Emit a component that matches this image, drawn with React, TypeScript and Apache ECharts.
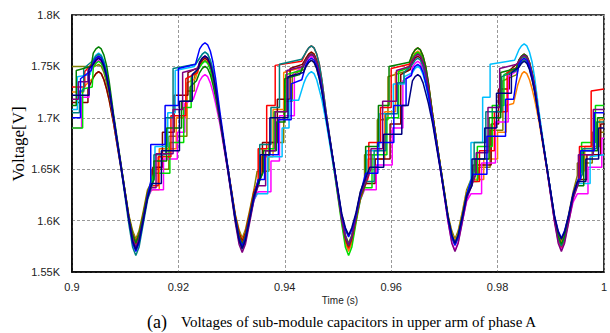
import React, { useEffect, useRef } from "react";
import * as echarts from "echarts";

// time in ms after 0.9 s, voltage in V
const xTickStart = 0.9;
const yTickLabels = ["1.55K", "1.6K", "1.65K", "1.7K", "1.75K", "1.8K"];

const blue = [[0,1700],[1.6,1700],[1.6,1738],[3.6,1746],[4.0,1754],[4.5,1758],[5,1760],
[5.5,1758],[6.0,1752],[6.5,1742],[7.0,1728],[7.8,1701],[9.3,1650],[10.7,1601],[11.4,1578],[12,1570],[12.6,1578],[13.4,1600],[14.2,1624],
[14.8,1638],[14.8,1674],[17.5,1674],[17.5,1712],[20.0,1712],[20.0,1748],[23.2,1752],[24.0,1767],[24.5,1771],[25,1773],
[25.5,1771],[26.0,1765],[26.5,1754],[27.0,1738],[27.8,1706],[29.3,1652],[30.7,1603],[31.4,1583],[32,1575],[32.6,1583],[33.4,1603],[34.2,1622],
[35.0,1640],[36.2,1640],[36.2,1664],[38.8,1664],[38.8,1698],[41.2,1698],[41.2,1733],[43.2,1737],[44.0,1752],[44.5,1756],[45,1758],
[45.5,1756],[46.0,1750],[46.5,1740],[47.0,1727],[47.8,1701],[49.3,1652],[50.7,1606],[51.4,1591],[52,1584],[52.6,1591],[53.4,1606],[54.2,1626],
[55.2,1646],[57.5,1646],[57.5,1676],[60.5,1676],[60.5,1712],[62.8,1712],[62.8,1738],[63.8,1741],[64.0,1746],[64.5,1750],[65,1752],
[65.5,1750],[66.0,1744],[66.5,1734],[67.0,1722],[67.8,1698],[69.3,1650],[70.7,1602],[71.4,1584],[72,1576],[72.6,1584],[73.4,1603],[74.2,1625],
[75.4,1645],[78.0,1645],[78.0,1682],[81.5,1682],[81.5,1718],[83.0,1718],[84.0,1752],[84.5,1756],[85,1758],
[85.5,1756],[86.0,1750],[86.5,1740],[87.0,1727],[87.8,1701],[89.3,1651],[90.7,1605],[91.4,1590],[92,1583],[92.6,1590],[93.4,1606],[94.2,1626],
[95.2,1640],[95.6,1640],[95.6,1668],[98.2,1668],[98.2,1705],[100,1705]];

const navy = [[0,1722],[3.2,1722],[3.2,1748],[4.0,1752],[4.5,1756],[5,1758],
[5.5,1756],[6.0,1750],[6.5,1740],[7.0,1727],[7.8,1700],[9.3,1649],[10.7,1601],[11.4,1580],[12,1572],[12.6,1580],[13.4,1601],[14.2,1622],
[15.0,1636],[16.8,1636],[16.8,1668],[20.2,1668],[20.2,1716],[22.6,1716],[22.6,1742],[23.8,1748],[24.0,1754],[24.5,1758],[25,1760],
[25.5,1758],[26.0,1752],[26.5,1742],[27.0,1728],[27.8,1701],[29.3,1650],[30.7,1601],[31.4,1581],[32,1573],[32.6,1581],[33.4,1602],[34.2,1624],
[35.4,1642],[35.4,1664],[37.2,1664],[37.2,1700],[40.6,1700],[40.6,1740],[43.5,1744],[44.0,1750],[44.5,1754],[45,1756],
[45.5,1754],[46.0,1748],[46.5,1738],[47.0,1725],[47.8,1699],[49.3,1652],[50.7,1607],[51.4,1593],[52,1586],[52.6,1593],[53.4,1608],[54.2,1628],
[56.0,1652],[58.6,1652],[58.6,1684],[62.0,1684],[62.0,1712],[63.2,1712],[64.0,1736],[64.5,1740],[65,1742],
[65.5,1740],[66.0,1734],[66.5,1724],[67.0,1714],[67.8,1694],[69.3,1648],[70.7,1603],[71.4,1586],[72,1578],[72.6,1586],[73.4,1604],[74.2,1624],
[75.2,1634],[75.2,1660],[77.6,1660],[77.6,1690],[79.8,1690],[79.8,1724],[82.6,1724],[82.6,1744],[84.0,1749],[84.5,1753],[85,1755],
[85.5,1753],[86.0,1747],[86.5,1737],[87.0,1725],[87.8,1699],[89.3,1651],[90.7,1604],[91.4,1589],[92,1582],[92.6,1589],[93.4,1605],[94.2,1625],
[95.0,1638],[96.6,1638],[96.6,1660],[99.0,1660],[99.0,1690],[100,1690]];

const cyan = [[0,1708],[1.0,1708],[1.0,1740],[3.4,1742],[4.0,1757],[4.5,1761],[5,1763],
[5.5,1761],[6.0,1755],[6.5,1745],[7.0,1730],[7.8,1702],[9.3,1650],[10.7,1602],[11.4,1583],[12,1575],[12.6,1583],[13.4,1603],[14.2,1624],
[15.6,1644],[15.6,1672],[18.0,1672],[18.0,1705],[19.4,1705],[19.4,1746],[23.0,1750],[24.0,1758],[24.5,1762],[25,1764],
[25.5,1762],[26.0,1756],[26.5,1746],[27.0,1731],[27.8,1702],[29.3,1650],[30.7,1601],[31.4,1582],[32,1574],[32.6,1582],[33.4,1602],[34.2,1620],
[34.8,1626],[36.8,1626],[36.8,1662],[39.5,1662],[39.5,1690],[40.8,1690],[40.8,1717],[42.6,1717],[43.6,1734],[44.0,1739],[44.5,1743],[45,1745],
[45.5,1743],[46.0,1737],[46.5,1727],[47.0,1717],[47.8,1695],[49.3,1648],[50.7,1601],[51.4,1583],[52,1575],[52.6,1583],[53.4,1603],[54.2,1624],
[55.4,1644],[55.4,1668],[57.8,1668],[57.8,1704],[60.4,1704],[60.4,1733],[62.5,1733],[62.5,1740],[64.0,1744],[64.5,1748],[65,1750],
[65.5,1748],[66.0,1742],[66.5,1732],[67.0,1720],[67.8,1697],[69.3,1650],[70.7,1603],[71.4,1586],[72,1578],[72.6,1586],[73.4,1604],[74.2,1624],
[75.0,1640],[75.0,1676],[77.2,1676],[77.2,1720],[78.6,1720],[78.6,1752],[83.2,1756],[84.0,1766],[84.5,1770],[85,1772],
[85.5,1770],[86.0,1764],[86.5,1754],[87.0,1738],[87.8,1706],[89.3,1651],[90.7,1602],[91.4,1584],[92,1576],[92.6,1584],[93.4,1604],[94.2,1624],
[95.0,1636],[97.4,1636],[97.4,1662],[100,1664]];

const green = [[0,1690],[2.0,1690],[2.0,1728],[3.8,1730],[4.0,1749],[4.5,1753],[5,1755],
[5.5,1753],[6.0,1747],[6.5,1737],[7.0,1724],[7.8,1699],[9.3,1651],[10.7,1603],[11.4,1586],[12,1578],[12.6,1586],[13.4,1605],[14.2,1626],
[15.4,1646],[18.4,1646],[18.4,1676],[21.0,1676],[21.0,1710],[22.4,1710],[22.4,1740],[24.0,1749],[24.5,1753],[25,1755],
[25.5,1753],[26.0,1747],[26.5,1737],[27.0,1724],[27.8,1699],[29.3,1650],[30.7,1602],[31.4,1584],[32,1576],[32.6,1584],[33.4,1604],[34.2,1625],
[35.2,1636],[35.2,1670],[38.0,1670],[38.0,1706],[40.2,1706],[40.2,1742],[43.0,1746],[44.0,1756],[44.5,1760],[45,1762],
[45.5,1760],[46.0,1754],[46.5,1744],[47.0,1730],[47.8,1700],[49.3,1648],[50.7,1597],[51.4,1574],[52,1566],[52.6,1574],[53.4,1598],[54.2,1620],
[55.0,1632],[56.4,1632],[56.4,1664],[59.2,1664],[59.2,1700],[61.4,1700],[61.4,1745],[63.4,1749],[64.0,1758],[64.5,1762],[65,1764],
[65.5,1762],[66.0,1756],[66.5,1746],[67.0,1731],[67.8,1702],[69.3,1651],[70.7,1603],[71.4,1586],[72,1578],[72.6,1586],[73.4,1605],[74.2,1626],
[75.0,1638],[76.2,1638],[76.2,1672],[79.0,1672],[79.0,1712],[81.2,1712],[81.2,1742],[83.6,1748],[84.0,1754],[84.5,1758],[85,1760],
[85.5,1758],[86.0,1752],[86.5,1742],[87.0,1728],[87.8,1701],[89.3,1650],[90.7,1602],[91.4,1583],[92,1575],[92.6,1583],[93.4,1603],[94.2,1624],
[95.8,1648],[95.8,1676],[98.4,1676],[98.4,1712],[100,1712]];

const darkGreen = [[0,1712],[0.8,1712],[0.8,1746],[3.6,1750],[4.0,1763],[4.5,1767],[5,1769],
[5.5,1767],[6.0,1761],[6.5,1751],[7.0,1735],[7.8,1704],[9.3,1652],[10.7,1603],[11.4,1586],[12,1578],[12.6,1586],[13.4,1605],[14.2,1626],
[15.4,1640],[15.4,1658],[17.8,1658],[17.8,1690],[20.6,1690],[20.6,1716],[22.2,1716],[22.2,1730],[23.4,1736],[24.0,1744],[24.5,1748],[25,1750],
[25.5,1748],[26.0,1742],[26.5,1732],[27.0,1720],[27.8,1697],[29.3,1650],[30.7,1603],[31.4,1585],[32,1577],[32.6,1585],[33.4,1604],[34.2,1625],
[36.0,1648],[36.0,1668],[38.4,1668],[38.4,1696],[40.0,1696],[40.0,1738],[42.8,1742],[44.0,1756],[44.5,1760],[45,1762],
[45.5,1760],[46.0,1754],[46.5,1744],[47.0,1730],[47.8,1701],[49.3,1651],[50.7,1602],[51.4,1583],[52,1575],[52.6,1583],[53.4,1603],[54.2,1624],
[55.2,1636],[55.2,1672],[57.6,1672],[57.6,1712],[59.6,1712],[59.6,1750],[63.4,1754],[64.0,1762],[64.5,1766],[65,1768],
[65.5,1766],[66.0,1760],[66.5,1750],[67.0,1734],[67.8,1703],[69.3,1651],[70.7,1603],[71.4,1585],[72,1577],[72.6,1585],[73.4,1604],[74.2,1625],
[75.8,1644],[75.8,1660],[78.4,1660],[78.4,1700],[80.6,1700],[80.6,1744],[83.5,1748],[84.0,1756],[84.5,1760],[85,1762],
[85.5,1760],[86.0,1754],[86.5,1744],[87.0,1730],[87.8,1701],[89.3,1651],[90.7,1603],[91.4,1585],[92,1577],[92.6,1585],[93.4,1604],[94.2,1625],
[95.0,1634],[96.2,1634],[96.2,1668],[98.8,1668],[98.8,1700],[100,1700]];

const red = [[0,1730],[2.4,1730],[2.4,1745],[4.0,1754],[4.5,1758],[5,1760],
[5.5,1758],[6.0,1752],[6.5,1742],[7.0,1728],[7.8,1701],[9.3,1651],[10.7,1603],[11.4,1585],[12,1577],[12.6,1585],[13.4,1604],[14.2,1625],
[14.8,1634],[16.2,1634],[16.2,1662],[18.6,1662],[18.6,1702],[21.4,1702],[21.4,1738],[23.6,1744],[24.0,1754],[24.5,1758],[25,1760],
[25.5,1758],[26.0,1752],[26.5,1742],[27.0,1728],[27.8,1701],[29.3,1651],[30.7,1603],[31.4,1586],[32,1578],[32.6,1586],[33.4,1605],[34.2,1626],
[35.0,1638],[35.0,1670],[36.6,1670],[36.6,1712],[38.2,1712],[38.2,1751],[43.2,1755],[44.0,1764],[44.5,1768],[45,1770],
[45.5,1768],[46.0,1762],[46.5,1752],[47.0,1736],[47.8,1704],[49.3,1651],[50.7,1601],[51.4,1581],[52,1573],[52.6,1581],[53.4,1601],[54.2,1622],
[55.8,1644],[55.8,1676],[58.0,1676],[58.0,1710],[60.0,1710],[60.0,1748],[63.4,1752],[64.0,1762],[64.5,1766],[65,1768],
[65.5,1766],[66.0,1760],[66.5,1750],[67.0,1734],[67.8,1703],[69.3,1651],[70.7,1603],[71.4,1585],[72,1577],[72.6,1585],[73.4,1604],[74.2,1625],
[75.2,1638],[76.6,1638],[76.6,1668],[79.4,1668],[79.4,1706],[81.8,1706],[81.8,1744],[83.6,1749],[84.0,1756],[84.5,1760],[85,1762],
[85.5,1760],[86.0,1754],[86.5,1744],[87.0,1730],[87.8,1701],[89.3,1650],[90.7,1601],[91.4,1582],[92,1574],[92.6,1582],[93.4,1602],[94.2,1623],
[95.4,1642],[95.4,1672],[97.6,1672],[97.6,1726],[100,1728]];

const maroon = [[0,1715],[3.0,1715],[3.0,1728],[4.0,1739],[4.5,1743],[5,1745],
[5.5,1743],[6.0,1737],[6.5,1728],[7.0,1717],[7.8,1695],[9.3,1648],[10.7,1603],[11.4,1587],[12,1579],[12.6,1587],[13.4,1606],[14.2,1627],
[15.2,1640],[15.2,1652],[17.0,1652],[17.0,1686],[19.2,1686],[19.2,1722],[21.8,1722],[21.8,1744],[23.8,1749],[24.0,1752],[24.5,1756],[25,1758],
[25.5,1756],[26.0,1750],[26.5,1740],[27.0,1727],[27.8,1700],[29.3,1651],[30.7,1604],[31.4,1588],[32,1580],[32.6,1588],[33.4,1607],[34.2,1628],
[35.8,1646],[35.8,1676],[38.6,1676],[38.6,1718],[41.0,1718],[41.0,1748],[43.3,1752],[44.0,1758],[44.5,1762],[45,1764],
[45.5,1762],[46.0,1756],[46.5,1746],[47.0,1731],[47.8,1702],[49.3,1651],[50.7,1602],[51.4,1584],[52,1576],[52.6,1584],[53.4,1604],[54.2,1625],
[55.0,1636],[57.0,1636],[57.0,1660],[59.8,1660],[59.8,1694],[61.8,1694],[61.8,1742],[63.6,1747],[64.0,1754],[64.5,1758],[65,1760],
[65.5,1758],[66.0,1752],[66.5,1742],[67.0,1728],[67.8,1701],[69.3,1651],[70.7,1603],[71.4,1586],[72,1578],[72.6,1586],[73.4,1605],[74.2,1626],
[75.4,1640],[75.4,1654],[78.8,1654],[78.8,1694],[80.2,1694],[80.2,1728],[82.2,1728],[82.2,1746],[84.0,1754],[84.5,1758],[85,1760],
[85.5,1758],[86.0,1752],[86.5,1742],[87.0,1728],[87.8,1701],[89.3,1651],[90.7,1602],[91.4,1584],[92,1576],[92.6,1584],[93.4,1604],[94.2,1625],
[95.2,1640],[96.8,1640],[96.8,1664],[99.4,1664],[99.4,1694],[100,1694]];

const magenta = [[0,1690],[1.8,1690],[1.8,1720],[3.2,1720],[3.2,1742],[4.0,1750],[4.5,1754],[5,1756],
[5.5,1754],[6.0,1748],[6.5,1738],[7.0,1725],[7.8,1699],[9.3,1650],[10.7,1602],[11.4,1585],[12,1577],[12.6,1585],[13.4,1604],[14.2,1622],
[15.0,1630],[17.2,1630],[17.2,1660],[19.8,1660],[19.8,1686],[21.2,1686],[21.2,1714],[22.8,1718],[23.6,1730],[24.0,1736],[24.5,1740],[25,1742],
[25.5,1740],[26.0,1734],[26.5,1725],[27.0,1714],[27.8,1694],[29.3,1648],[30.7,1601],[31.4,1583],[32,1575],[32.6,1583],[33.4,1602],[34.2,1620],
[35.0,1628],[37.4,1628],[37.4,1658],[39.0,1658],[39.0,1702],[41.8,1702],[41.8,1744],[43.4,1749],[44.0,1754],[44.5,1758],[45,1760],
[45.5,1758],[46.0,1752],[46.5,1742],[47.0,1728],[47.8,1701],[49.3,1650],[50.7,1602],[51.4,1583],[52,1575],[52.6,1583],[53.4,1602],[54.2,1620],
[55.0,1630],[57.2,1630],[57.2,1654],[60.2,1654],[60.2,1690],[62.2,1690],[62.2,1736],[63.8,1742],[64.0,1749],[64.5,1753],[65,1755],
[65.5,1753],[66.0,1747],[66.5,1737],[67.0,1724],[67.8,1697],[69.3,1648],[70.7,1599],[71.4,1579],[72,1571],[72.6,1579],[73.4,1600],[74.2,1619],
[75.0,1626],[77.0,1626],[77.0,1656],[79.6,1656],[79.6,1696],[82.0,1696],[82.0,1740],[83.7,1746],[84.0,1752],[84.5,1756],[85,1758],
[85.5,1756],[86.0,1750],[86.5,1740],[87.0,1727],[87.8,1700],[89.3,1649],[90.7,1600],[91.4,1580],[92,1572],[92.6,1580],[93.4,1600],[94.2,1618],
[95.0,1626],[97.0,1626],[97.0,1652],[99.6,1652],[99.6,1680],[100,1680]];

const purple = [[0,1718],[1.2,1718],[1.2,1735],[3.0,1735],[3.0,1746],[4.0,1752],[4.5,1756],[5,1758],
[5.5,1756],[6.0,1750],[6.5,1740],[7.0,1727],[7.8,1700],[9.3,1650],[10.7,1601],[11.4,1582],[12,1574],[12.6,1582],[13.4,1602],[14.2,1623],
[14.8,1632],[15.8,1632],[15.8,1665],[19.0,1665],[19.0,1708],[20.8,1708],[20.8,1744],[23.6,1748],[24.0,1754],[24.5,1758],[25,1760],
[25.5,1758],[26.0,1752],[26.5,1742],[27.0,1728],[27.8,1699],[29.3,1648],[30.7,1598],[31.4,1577],[32,1569],[32.6,1577],[33.4,1598],[34.2,1620],
[35.0,1634],[36.4,1634],[36.4,1668],[38.2,1668],[38.2,1706],[40.4,1706],[40.4,1746],[43.4,1750],[44.0,1756],[44.5,1760],[45,1762],
[45.5,1760],[46.0,1754],[46.5,1744],[47.0,1730],[47.8,1701],[49.3,1651],[50.7,1602],[51.4,1584],[52,1576],[52.6,1584],[53.4,1604],[54.2,1625],
[56.2,1650],[56.2,1670],[58.4,1670],[58.4,1716],[61.0,1716],[61.0,1746],[63.5,1750],[64.0,1756],[64.5,1760],[65,1762],
[65.5,1760],[66.0,1754],[66.5,1744],[67.0,1729],[67.8,1700],[69.3,1649],[70.7,1599],[71.4,1578],[72,1570],[72.6,1578],[73.4,1599],[74.2,1621],
[76.0,1646],[76.0,1666],[78.2,1666],[78.2,1710],[80.4,1710],[80.4,1748],[83.6,1752],[84.0,1755],[84.5,1759],[85,1761],
[85.5,1759],[86.0,1753],[86.5,1743],[87.0,1729],[87.8,1700],[89.3,1649],[90.7,1599],[91.4,1578],[92,1570],[92.6,1578],[93.4,1599],[94.2,1621],
[95.2,1636],[95.2,1664],[98.0,1664],[98.0,1708],[100,1708]];

const orange = [[0,1725],[2.2,1725],[2.2,1730],[4.0,1739],[4.5,1743],[5,1745],
[5.5,1743],[6.0,1737],[6.5,1728],[7.0,1717],[7.8,1695],[9.3,1649],[10.7,1604],[11.4,1588],[12,1580],[12.6,1588],[13.4,1607],[14.2,1628],
[15.2,1630],[16.4,1630],[16.4,1670],[19.6,1670],[19.6,1700],[21.6,1700],[21.6,1734],[23.2,1738],[24.0,1752],[24.5,1756],[25,1758],
[25.5,1756],[26.0,1750],[26.5,1740],[27.0,1727],[27.8,1700],[29.3,1651],[30.7,1605],[31.4,1589],[32,1581],[32.6,1589],[33.4,1608],[34.2,1629],
[35.6,1646],[35.6,1662],[37.8,1662],[37.8,1708],[39.8,1708],[39.8,1744],[43.2,1749],[44.0,1758],[44.5,1762],[45,1764],
[45.5,1762],[46.0,1756],[46.5,1746],[47.0,1731],[47.8,1701],[49.3,1649],[50.7,1599],[51.4,1578],[52,1570],[52.6,1578],[53.4,1600],[54.2,1622],
[55.6,1640],[55.6,1660],[58.8,1660],[58.8,1706],[60.8,1706],[60.8,1744],[63.3,1750],[64.0,1759],[64.5,1763],[65,1765],
[65.5,1763],[66.0,1757],[66.5,1747],[67.0,1732],[67.8,1703],[69.3,1652],[70.7,1604],[71.4,1588],[72,1580],[72.6,1588],[73.4,1607],[74.2,1628],
[75.4,1640],[77.4,1640],[77.4,1660],[80.0,1660],[80.0,1686],[81.6,1686],[81.6,1712],[83.0,1714],[83.8,1732],[84.2,1738],[84.6,1743],[85,1745],
[85.5,1743],[86.0,1737],[86.5,1728],[87.0,1717],[87.8,1696],[89.3,1649],[90.7,1603],[91.4,1586],[92,1578],[92.6,1586],[93.4,1605],[94.2,1626],
[96.4,1650],[96.4,1672],[99.2,1672],[99.2,1698],[100,1698]];

const olive = [[0,1750],[2.6,1750],[3.8,1749],[4.3,1750],[5,1752],
[5.5,1750],[6.0,1744],[6.5,1734],[7.0,1722],[7.8,1698],[9.3,1650],[10.7,1605],[11.4,1590],[12,1582],[12.6,1590],[13.4,1609],[14.2,1630],
[15.0,1638],[15.0,1650],[18.2,1650],[18.2,1682],[21.6,1682],[21.6,1726],[23.0,1726],[23.0,1740],[24.0,1750],[24.5,1754],[25,1756],
[25.5,1754],[26.0,1748],[26.5,1738],[27.0,1725],[27.8,1700],[29.3,1652],[30.7,1606],[31.4,1591],[32,1583],[32.6,1591],[33.4,1610],[34.2,1630],
[34.8,1648],[37.0,1648],[37.0,1676],[39.8,1676],[39.8,1716],[41.4,1716],[41.4,1742],[43.6,1747],[44.0,1750],[44.5,1754],[45,1756],
[45.5,1754],[46.0,1748],[46.5,1738],[47.0,1725],[47.8,1700],[49.3,1651],[50.7,1604],[51.4,1586],[52,1578],[52.6,1586],[53.4,1606],[54.2,1627],
[55.0,1640],[55.0,1664],[57.4,1664],[57.4,1698],[59.4,1698],[59.4,1740],[63.2,1746],[64.0,1757],[64.5,1761],[65,1763],
[65.5,1761],[66.0,1755],[66.5,1745],[67.0,1731],[67.8,1702],[69.3,1652],[70.7,1605],[71.4,1590],[72,1582],[72.6,1590],[73.4,1609],[74.2,1630],
[75.0,1640],[76.4,1640],[76.4,1652],[78.6,1652],[78.6,1688],[81.0,1688],[81.0,1736],[83.6,1742],[84.0,1751],[84.5,1755],[85,1757],
[85.5,1755],[86.0,1749],[86.5,1739],[87.0,1726],[87.8,1700],[89.3,1651],[90.7,1604],[91.4,1588],[92,1580],[92.6,1588],[93.4,1607],[94.2,1628],
[95.0,1644],[95.0,1656],[97.8,1656],[97.8,1686],[100,1686]];

const teal = [[0,1705],[1.4,1705],[1.4,1726],[2.2,1726],[2.2,1748],[4.0,1756],[4.5,1760],[5,1762],
[5.5,1760],[6.0,1754],[6.5,1744],[7.0,1729],[7.8,1700],[9.3,1648],[10.7,1596],[11.4,1574],[12,1566],[12.6,1574],[13.4,1597],[14.2,1620],
[15.4,1640],[15.4,1664],[17.6,1664],[17.6,1700],[19.0,1700],[19.0,1748],[23.2,1752],[24.0,1758],[24.5,1762],[25,1764],
[25.5,1762],[26.0,1756],[26.5,1746],[27.0,1731],[27.8,1701],[29.3,1649],[30.7,1600],[31.4,1580],[32,1572],[32.6,1580],[33.4,1600],[34.2,1622],
[35.3,1640],[35.3,1674],[37.4,1674],[37.4,1710],[39.0,1710],[39.0,1752],[43.2,1757],[44.0,1764],[44.5,1768],[45,1770],
[45.5,1768],[46.0,1762],[46.5,1752],[47.0,1736],[47.8,1704],[49.3,1652],[50.7,1603],[51.4,1585],[52,1577],[52.6,1585],[53.4,1604],[54.2,1625],
[55.2,1638],[56.8,1638],[56.8,1668],[59.0,1668],[59.0,1704],[61.2,1704],[61.2,1734],[62.4,1734],[62.4,1744],[64.0,1752],[64.5,1756],[65,1758],
[65.5,1756],[66.0,1750],[66.5,1740],[67.0,1727],[67.8,1700],[69.3,1650],[70.7,1602],[71.4,1584],[72,1576],[72.6,1584],[73.4,1603],[74.2,1624],
[75.6,1648],[75.6,1676],[77.8,1676],[77.8,1706],[80.8,1706],[80.8,1740],[83.6,1746],[84.0,1750],[84.5,1754],[85,1756],
[85.5,1754],[86.0,1748],[86.5,1738],[87.0,1725],[87.8,1700],[89.3,1650],[90.7,1602],[91.4,1583],[92,1575],[92.6,1583],[93.4,1603],[94.2,1624],
[96.0,1646],[96.0,1670],[98.6,1670],[98.6,1696],[100,1696]];

const seriesList = [
  { name: "SM1", color: "#808000", data: olive },
  { name: "SM2", color: "#ff8000", data: orange },
  { name: "SM3", color: "#800000", data: maroon },
  { name: "SM4", color: "#ff00ff", data: magenta },
  { name: "SM5", color: "#00dd00", data: green },
  { name: "SM6", color: "#00bfff", data: cyan },
  { name: "SM7", color: "#ff0000", data: red },
  { name: "SM8", color: "#008080", data: teal },
  { name: "SM9", color: "#008000", data: darkGreen },
  { name: "SM10", color: "#800080", data: purple },
  { name: "SM11", color: "#0000ff", data: blue },
  { name: "SM12", color: "#000080", data: navy },
];

export default function App() {
  const ref = useRef<HTMLDivElement>(null);
  useEffect(() => {
    document.body.style.margin = "0";
    const chart = echarts.init(ref.current!, null, { renderer: "svg" });
    const sans = "'Liberation Sans', Arial, sans-serif";
    const serif = "'Liberation Serif', 'Times New Roman', serif";
    chart.setOption({
      animation: false,
      backgroundColor: "#ffffff",
      grid: { left: 72, top: 15, width: 540, height: 257, show: true, borderColor: "#000", borderWidth: 1.5, backgroundColor: "transparent" },
      xAxis: {
        type: "value", min: 0, max: 100, interval: 20,
        axisLine: { show: true, lineStyle: { color: "#000", width: 1.5 } },
        axisTick: { show: false },
        axisLabel: {
          formatter: (v: number) => String(+(xTickStart + v / 1000).toFixed(2)),
          color: "#222", fontFamily: sans, fontSize: 11, margin: 9,
        },
        splitLine: { show: true, lineStyle: { color: "#999", type: [3, 2], width: 1 } },
      },
      yAxis: {
        type: "value", min: 1550, max: 1800, interval: 50,
        axisLine: { show: true, lineStyle: { color: "#000", width: 1.5 } },
        axisTick: { show: false },
        axisLabel: {
          formatter: (v: number) => yTickLabels[Math.round((v - 1550) / 50)],
          color: "#222", fontFamily: sans, fontSize: 11, margin: 12,
        },
        splitLine: { show: true, lineStyle: { color: "#999", type: [3, 2], width: 1 } },
      },
      graphic: [
        { type: "text", x: 18, y: 144, rotation: Math.PI / 2, style: { text: "Voltage[V]", font: `17px ${serif}`, fill: "#000", align: "center", verticalAlign: "middle" } },
        { type: "text", x: 340, y: 300, style: { text: "Time (s)", font: `10px ${sans}`, fill: "#222", align: "center", verticalAlign: "middle" } },
        { type: "text", x: 147, y: 322, style: { text: "(a)", font: `18px ${serif}`, fill: "#000", align: "left", verticalAlign: "middle" } },
        { type: "text", x: 181, y: 322, style: { text: "Voltages of sub-module capacitors in upper arm of phase A", font: `15px ${serif}`, fill: "#000", align: "left", verticalAlign: "middle" } },
      ],
      series: seriesList.map((s) => ({
        name: s.name, type: "line", data: s.data, showSymbol: false, symbol: "none",
        lineStyle: { color: s.color, width: 1.5 }, itemStyle: { color: s.color }, clip: true,
      })),
    });
    return () => chart.dispose();
  }, []);
  return <div ref={ref} style={{ width: 610, height: 333 }} />;
}
